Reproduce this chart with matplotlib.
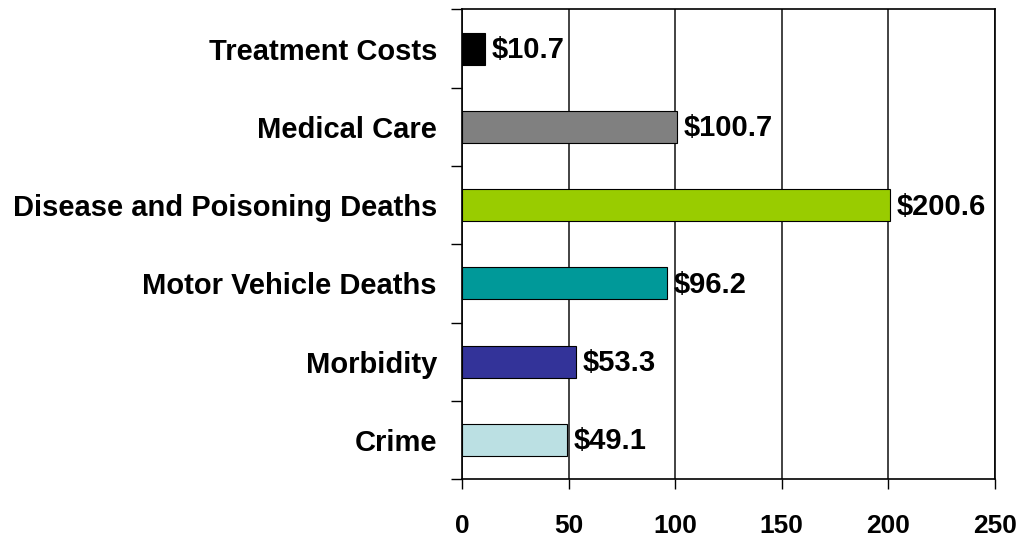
import matplotlib
matplotlib.use("Agg")
import matplotlib.pyplot as plt
import numpy as np

plt.rcParams["font.family"] = ["Liberation Sans", "DejaVu Sans"]
plt.rcParams["font.weight"] = "bold"

categories = ["Treatment Costs", "Medical Care", "Disease and Poisoning Deaths",
              "Motor Vehicle Deaths", "Morbidity", "Crime"]
values = [10.7, 100.7, 200.6, 96.2, 53.3, 49.1]
value_labels = ["$10.7", "$100.7", "$200.6", "$96.2", "$53.3", "$49.1"]
colors = ["#000000", "#808080", "#99CC00", "#009999", "#333399", "#BBE0E3"]
x_ticks = [0, 50, 100, 150, 200, 250]

fig = plt.figure(figsize=(10.23, 5.39), dpi=100)
ax = fig.add_axes([0.4516, 0.1113, 0.5210, 0.8711])

y = np.arange(len(categories))
bars = ax.barh(y, values, height=0.41, color=colors, edgecolor="#000000",
               linewidth=0.8, zorder=3)

for bar, lab in zip(bars, value_labels):
    ax.annotate(lab, (bar.get_width(), bar.get_y() + bar.get_height() / 2),
                xytext=(5, -1), textcoords="offset points", va="center",
                ha="left", fontsize=21, fontweight="bold", zorder=4)

ax.set_xlim(0, 250)
ax.set_ylim(len(categories) - 0.5, -0.5)
ax.set_xticks(x_ticks)
ax.set_xticklabels([str(t) for t in x_ticks], fontsize=19, fontweight="bold")

# category boundaries get the tick marks, labels sit in the middle
ax.set_yticks(np.arange(-0.5, len(categories), 1.0))
ax.set_yticklabels([])
ax.set_yticks(y, minor=True)
ax.set_yticklabels(categories, minor=True, fontsize=21, fontweight="bold")
ax.tick_params(axis="y", which="major", length=8, width=1, direction="out", color="#000000")
ax.tick_params(axis="y", which="minor", length=0, pad=18)
ax.tick_params(axis="x", length=7, width=1, direction="out", pad=18)

ax.grid(True, axis="x", color="#222222", linewidth=1.2, zorder=1)
for s in ax.spines.values():
    s.set_color("#000000")
    s.set_linewidth(1.2)

fig.savefig("out.png", dpi=100)
